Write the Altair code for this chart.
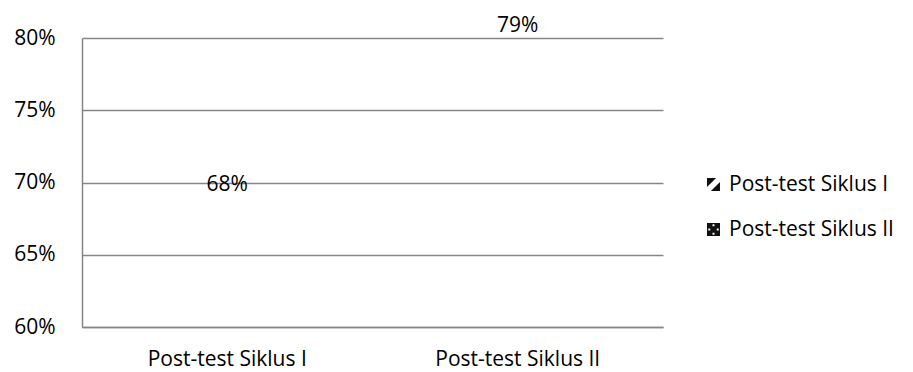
import altair as alt
import pandas as pd

categories = ["Post-test Siklus I", "Post-test Siklus II"]
series = ["Post-test Siklus I", "Post-test Siklus II"]
values = [0.68, 0.79]
y_ticks = [0.60, 0.65, 0.70, 0.75, 0.80]

df = pd.DataFrame({"kategori": categories, "seri": series, "nilai": values})

FONT = "Open Sans"
GRID = "#868686"

shape1 = "M-1,-1L0.4,-1L-1,0.4Z M1,1L-0.4,1L1,-0.4Z"
shape2 = ("M-1,-1H1V1H-1Z "
          "M-0.15,-0.8V-0.5H0.15V-0.8Z "
          "M-0.15,0.5V0.8H0.15V0.5Z "
          "M-0.8,-0.15V0.15H-0.5V-0.15Z "
          "M0.5,-0.15V0.15H0.8V-0.15Z")

legend_cfg = dict(title=None, orient="none", legendX=621, legendY=136,
                  symbolOpacity=1, symbolSize=170, symbolStrokeWidth=0,
                  labelFont=FONT, labelFontSize=21, labelColor="#000",
                  labelOffset=5, rowPadding=23, labelLimit=300)

x_enc = alt.X("kategori:N", sort=categories,
              scale=alt.Scale(paddingInner=0.4, paddingOuter=0.2),
              axis=alt.Axis(title=None, labelAngle=0, ticks=False, grid=False,
                            domainColor=GRID, domainWidth=1.5,
                            labelFont=FONT, labelFontSize=21, labelColor="#000",
                            labelPadding=21))
y_enc = alt.Y("nilai:Q", scale=alt.Scale(domain=[0.6, 0.8], nice=False, zero=False),
              axis=alt.Axis(title=None, values=y_ticks, format=".0%", ticks=False,
                            grid=True, gridColor=GRID, gridWidth=1.5,
                            domainColor=GRID, domainWidth=1.5,
                            labelFont=FONT, labelFontSize=21, labelColor="#000",
                            labelPadding=27))

base = alt.Chart(df)

bars = base.mark_bar(fillOpacity=0, strokeOpacity=0, clip=True).encode(
    x=x_enc, y=y_enc,
)

legend_pts = base.mark_point(filled=True, opacity=0).encode(
    x=alt.X("kategori:N", sort=categories),
    y=alt.Y("nilai:Q"),
    color=alt.Color("seri:N", sort=series,
                    scale=alt.Scale(domain=series, range=["#111111", "#111111"]),
                    legend=alt.Legend(**legend_cfg)),
    shape=alt.Shape("seri:N", sort=series,
                    scale=alt.Scale(domain=series, range=[shape1, shape2]),
                    legend=alt.Legend(**legend_cfg)),
)

labels = base.mark_text(font=FONT, fontSize=21, color="#000", baseline="alphabetic",
                        dy=-20).encode(
    x=alt.X("kategori:N", sort=categories),
    y=alt.Y("nilai:Q"),
    text=alt.Text("nilai:Q", format=".0%"),
)

chart = alt.layer(bars, legend_pts, labels).properties(
    width=581, height=289,
    autosize=alt.AutoSizeParams(type="none"),
    padding={"left": 82, "top": 38, "right": 250, "bottom": 45},
    background="white",
).configure_view(stroke=None)

chart.save("out.html", embed_options={"renderer": "svg", "actions": False})
